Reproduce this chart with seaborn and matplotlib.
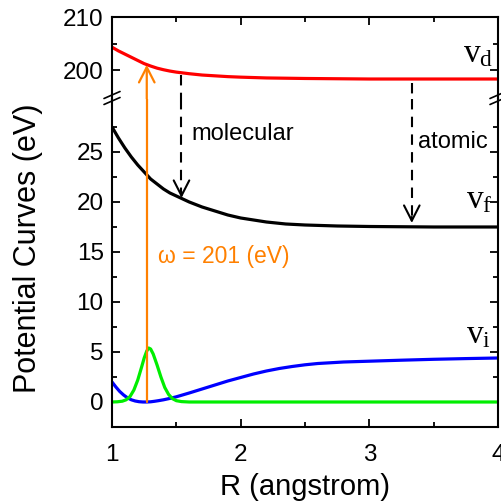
import matplotlib
matplotlib.use("Agg")
import matplotlib.pyplot as plt
import seaborn as sns
from matplotlib.lines import Line2D
from matplotlib.ticker import MultipleLocator, FixedLocator

# ---- potential curves (R in angstrom, energy in eV) ----
R_d = [1.0, 1.05, 1.1, 1.15, 1.2, 1.25, 1.3, 1.35, 1.4, 1.45, 1.5, 1.6, 1.7, 1.8,
       1.9, 2.0, 2.2, 2.5, 3.0, 4.0]
V_d = [204.3, 203.6, 203.0, 202.4, 201.8, 201.2, 200.75, 200.35, 200.05, 199.8,
       199.6, 199.3, 199.05, 198.9, 198.75, 198.65, 198.5, 198.4, 198.3, 198.3]

R_f = [1.0, 1.05, 1.1, 1.15, 1.2, 1.25, 1.3, 1.35, 1.4, 1.45, 1.5, 1.55, 1.6, 1.7,
       1.8, 1.9, 2.0, 2.1, 2.2, 2.35, 2.5, 2.75, 3.0, 3.5, 4.0]
V_f = [27.5, 26.4, 25.4, 24.5, 23.7, 23.0, 22.3, 21.8, 21.3, 20.9, 20.6, 20.3, 20.0,
       19.5, 19.1, 18.7, 18.4, 18.2, 18.0, 17.8, 17.7, 17.6, 17.55, 17.5, 17.5]

R_i = [1.0, 1.03, 1.06, 1.09, 1.12, 1.15, 1.18, 1.21, 1.24, 1.27, 1.3, 1.33, 1.36,
       1.4, 1.45, 1.5, 1.6, 1.7, 1.8, 1.9, 2.0, 2.1, 2.2, 2.3, 2.4, 2.5, 2.6, 2.8,
       3.0, 3.25, 3.5, 3.75, 4.0]
V_i = [2.0, 1.5, 1.05, 0.7, 0.42, 0.22, 0.1, 0.03, 0.0, 0.0, 0.02, 0.07, 0.13,
       0.22, 0.36, 0.52, 0.9, 1.3, 1.7, 2.1, 2.45, 2.8, 3.1, 3.35, 3.55, 3.72, 3.85,
       4.0, 4.08, 4.18, 4.27, 4.34, 4.4]

# ground-state vibrational wave packet
R_wp = [1.0, 1.04, 1.08, 1.11, 1.14, 1.17, 1.2, 1.23, 1.25, 1.27, 1.285, 1.3, 1.32,
        1.35, 1.38, 1.41, 1.44, 1.47, 1.5, 1.54, 1.6, 4.0]
P_wp = [0.0, 0.02, 0.08, 0.22, 0.55, 1.2, 2.2, 3.5, 4.4, 5.1, 5.4, 5.3, 4.8,
        3.7, 2.5, 1.45, 0.75, 0.33, 0.13, 0.04, 0.0, 0.0]

# excitation and decay markers
R_exc = 1.27
E_photon = 201
R_mol, E_mol_start, E_mol_end = 1.54, 199.1, 20.4
R_atm, E_atm_start, E_atm_end = 3.33, 197.5, 17.9

ORANGE = "#FF8000"

sns.set_style("ticks")
plt.rcParams["font.family"] = ["Liberation Sans", "DejaVu Sans"]
plt.rcParams["text.color"] = "black"
plt.rcParams["axes.labelcolor"] = "black"
plt.rcParams["xtick.color"] = "black"
plt.rcParams["ytick.color"] = "black"

fig = plt.figure(figsize=(5.01, 5.03), dpi=100)
ax_top = fig.add_axes([0.2236, 0.8032, 0.7704, 0.1630])
ax_bot = fig.add_axes([0.2236, 0.1511, 0.7704, 0.6521])

LO_TOP, HI_TOP = 194.53, 210
LO_BOT, HI_BOT = -2.5, 30.3

sns.lineplot(x=R_d, y=V_d, ax=ax_top, color="#FF0000", lw=2.3)
sns.lineplot(x=R_f, y=V_f, ax=ax_bot, color="black", lw=2.3)
sns.lineplot(x=R_i, y=V_i, ax=ax_bot, color="#0000FF", lw=2.3)
sns.lineplot(x=R_wp, y=P_wp, ax=ax_bot, color="#00EE00", lw=2.3)

for ax in (ax_top, ax_bot):
    ax.set_xlim(1, 4)
    ax.xaxis.set_major_locator(MultipleLocator(1))
    ax.xaxis.set_minor_locator(MultipleLocator(0.5))
    ax.set_xlabel("")
    ax.set_ylabel("")
    for s in ax.spines.values():
        s.set_linewidth(1.5)
        s.set_color("black")
    ax.tick_params(which="both", direction="in", width=1.3, colors="black",
                   labelcolor="black", labelsize=17.5, pad=6, right=True)
    ax.tick_params(which="major", length=6)
    ax.tick_params(which="minor", length=3.5)

ax_top.set_ylim(LO_TOP, HI_TOP)
ax_top.yaxis.set_major_locator(FixedLocator([200, 210]))
ax_top.yaxis.set_minor_locator(FixedLocator([205]))
ax_top.spines["bottom"].set_visible(False)
ax_top.tick_params(which="both", bottom=False, top=True, labelbottom=False)

ax_bot.set_ylim(LO_BOT, HI_BOT)
ax_bot.yaxis.set_major_locator(FixedLocator([0, 5, 10, 15, 20, 25]))
ax_bot.yaxis.set_minor_locator(FixedLocator([2.5, 7.5, 12.5, 17.5, 22.5, 27.5]))
ax_bot.spines["top"].set_visible(False)
ax_bot.tick_params(which="both", top=False, bottom=True)
ax_bot.tick_params(axis="x", pad=12)

# photon excitation arrow (orange), spanning the axis break
ax_bot.plot([R_exc, R_exc], [0, HI_BOT], color=ORANGE, lw=1.6)
ax_top.annotate("", xy=(R_exc, E_photon), xytext=(R_exc, LO_TOP),
                arrowprops=dict(arrowstyle="->,head_length=0.55,head_width=0.28",
                                color=ORANGE, lw=1.6, shrinkA=0, shrinkB=0,
                                mutation_scale=20))
ax_bot.text(1.36, 13.9, "\u03c9 = 201 (eV)", color=ORANGE, fontsize=16.5,
            ha="left", va="baseline")

# decay arrows (dashed)
def decay_arrow(r, e_start, e_end):
    ax_top.plot([r, r], [e_start, LO_TOP], color="black", lw=1.5, dashes=(5, 3.5))
    ax_bot.plot([r, r], [HI_BOT, e_end + 0.6], color="black", lw=1.5, dashes=(5, 3.5))
    ax_bot.annotate("", xy=(r, e_end), xytext=(r, e_end + 0.6),
                    arrowprops=dict(arrowstyle="->,head_length=0.55,head_width=0.28",
                                    color="black", lw=1.5, shrinkA=0, shrinkB=0,
                                    mutation_scale=20))

decay_arrow(R_mol, E_mol_start, E_mol_end)
decay_arrow(R_atm, E_atm_start, E_atm_end)

ax_bot.text(1.62, 26.2, "molecular", fontsize=17, ha="left", va="baseline")
ax_bot.text(3.38, 25.4, "atomic", fontsize=17, ha="left", va="baseline")

# curve labels
lab = dict(fontsize=24, ha="left", va="baseline", family="Liberation Serif")
ax_top.text(3.73, 201.5, r"$\mathregular{v_d}$", **lab)
ax_bot.text(3.75, 19.4, r"$\mathregular{v_f}$", **lab)
ax_bot.text(3.75, 5.9, r"$\mathregular{v_i}$", **lab)

# axis break marks
W, H = 501, 503
def px(x, y):
    return x / W, 1 - y / H

for xc in (112, 498):
    for yc in (95, 101):
        x0, y0 = px(xc - 8, yc + 3.5)
        x1, y1 = px(xc + 8, yc - 3.5)
        fig.add_artist(Line2D([x0, x1], [y0, y1], color="black", lw=1.2,
                              transform=fig.transFigure))

ax_bot.set_xlabel("R (angstrom)", fontsize=21, labelpad=5)
fig.text(px(28, 0)[0], 1 - 248 / H, "Potential Curves (eV)", fontsize=22,
         rotation=90, ha="center", va="center")

fig.savefig("out.png", dpi=100)
